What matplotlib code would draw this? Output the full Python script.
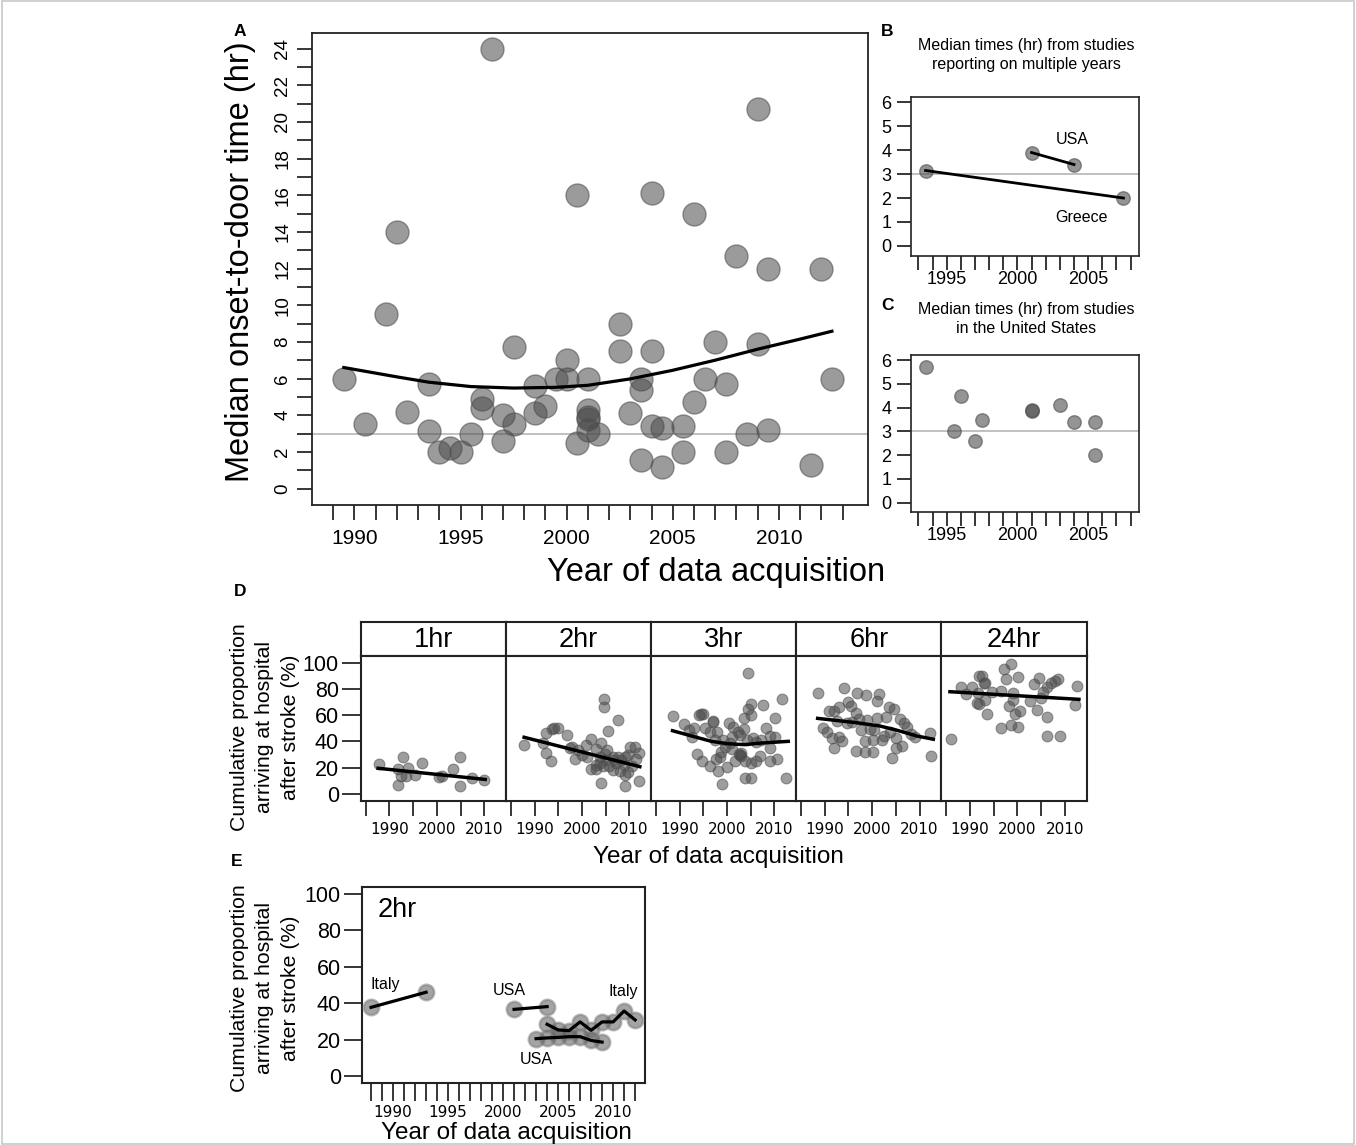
import numpy as np
import matplotlib
matplotlib.use("Agg")
import matplotlib.pyplot as plt
from matplotlib.patches import Rectangle

plt.rcParams['font.family'] = ['Liberation Sans', 'DejaVu Sans']

# ---- panel A: median onset-to-door time per study
a_year = [1989.5, 1990.5, 1991.5, 1992.0, 1992.5, 1993.5, 1993.5, 1994.0, 1994.5, 1995.0,
          1995.5, 1996.0, 1996.0, 1996.5, 1997.0, 1997.0, 1997.5, 1997.5, 1998.5, 1998.5,
          1999.0, 1999.5, 2000.0, 2000.0, 2000.5, 2000.5, 2001.0, 2001.0, 2001.0, 2001.0,
          2001.0, 2001.5, 2002.5, 2002.5, 2003.0, 2003.5, 2003.5, 2003.5, 2004.0, 2004.0,
          2004.0, 2004.5, 2004.5, 2005.5, 2005.5, 2006.0, 2006.0, 2006.5, 2007.0, 2007.5,
          2007.5, 2008.0, 2008.5, 2009.0, 2009.0, 2009.5, 2009.5, 2011.5, 2012.0, 2012.5]
a_hours = [6.0, 3.5, 9.5, 14.0, 4.2, 5.7, 3.15, 2.0, 2.2, 2.0,
           3.0, 4.9, 4.4, 24.0, 4.0, 2.6, 7.7, 3.5, 5.6, 4.1,
           4.5, 6.0, 7.0, 6.0, 16.0, 2.5, 6.0, 4.3, 3.9, 3.8,
           3.2, 3.0, 9.0, 7.5, 4.1, 6.0, 5.4, 1.55, 16.1, 7.5,
           3.4, 3.3, 1.2, 3.4, 2.0, 15.0, 4.7, 6.0, 8.0, 5.7,
           2.0, 12.7, 3.0, 20.7, 7.9, 12.0, 3.2, 1.3, 12.0, 6.0]
# fitted trend
a_fit_year = [1989.5, 1992.0, 1993.5, 1995.5, 1997.5, 1999.5, 2001.0, 2003.0, 2005.0,
              2007.0, 2009.0, 2011.0, 2012.5]
a_fit_hours = [6.6, 6.09, 5.8, 5.56, 5.48, 5.52, 5.63, 5.98, 6.45, 7.0, 7.6, 8.15, 8.58]

# ---- panel B: studies reporting on multiple years
b_year = [1993.5, 2007.5, 2001.0, 2004.0]
b_hours = [3.15, 2.0, 3.9, 3.4]
b_country = ['Greece', 'Greece', 'USA', 'USA']

# ---- panel C: studies in the United States
c_year = [1993.5, 1996.0, 1995.5, 1997.0, 1997.5, 2001.0, 2001.0, 2003.0, 2004.0, 2005.5, 2005.5]
c_hours = [5.7, 4.5, 3.0, 2.6, 3.5, 3.9, 3.85, 4.12, 3.4, 3.4, 2.0]

# ---- panel D: cumulative proportion arriving by time after stroke
d_labels = ['1hr', '2hr', '3hr', '6hr', '24hr']
d1_year = [1987.8, 1992.9, 1991.9, 1993.9, 1992.5, 1993.4, 1991.9, 1995.4, 1996.9, 2000.4,
           2001.0, 2003.4, 2004.9, 2004.9, 2007.4, 2010.0]
d1_pct = [22.6, 28.4, 19.0, 20.0, 13.9, 14.0, 6.9, 14.7, 23.8, 13.2,
          13.7, 19.0, 28.2, 5.9, 12.4, 10.9]
d2_year = [1987.8, 1992.5, 1993.6, 1994.1, 1995.0, 1996.9, 1991.8, 1992.5, 1993.4, 1997.4,
           1998.5, 1999.2, 2000.9, 2002.0, 2003.0, 2001.1, 2004.1, 2004.6, 2004.6, 2005.5,
           2007.5, 2002.0, 2003.0, 2003.7, 2004.4, 2005.1, 2005.8, 2006.5, 2007.2, 2007.6,
           2008.3, 2009.0, 2009.7, 2010.1, 2011.1, 2012.0, 2008.0, 2009.0, 2009.7, 2004.0,
           2009.0, 2012.0, 2003.7, 2005.3, 2006.5, 2002.9, 2004.8, 2006.8, 2008.8, 2010.6,
           2011.4, 1998.0, 2000.0]
d2_pct = [37.3, 46.2, 49.3, 50.5, 50.0, 44.9, 38.6, 31.5, 25.1, 34.8,
          26.4, 33.5, 37.3, 41.7, 34.0, 28.4, 38.6, 72.1, 66.0, 48.2,
          56.4, 18.8, 22.1, 23.8, 21.3, 25.9, 21.5, 28.4, 23.4, 28.4,
          25.9, 27.9, 29.7, 35.6, 35.6, 31.0, 17.7, 14.5, 17.0, 8.6,
          6.1, 9.9, 28.4, 33.5, 18.3, 18.8, 30.5, 26.0, 22.0, 21.5,
          26.5, 36.0, 30.0]
d3_year = [1988.5, 1991.0, 1992.0, 1993.1, 1992.5, 1994.1, 1994.6, 1995.0, 1995.3, 1997.1,
           1997.1, 1996.4, 1997.8, 1997.4, 1999.2, 2000.4, 2001.3, 2001.1, 2002.7, 2003.5,
           2003.6, 2004.4, 2005.0, 2005.0, 2004.4, 2007.5, 2011.5, 2010.1, 2008.3, 2009.0,
           2010.1, 2005.5, 2006.2, 2004.2, 1993.6, 1994.8, 1996.4, 1998.0, 1999.0, 1999.9,
           1998.5, 1997.6, 2001.6, 2002.5, 2003.0, 2003.7, 2005.1, 2006.2, 2006.9, 2003.7,
           2005.0, 2009.0, 2010.6, 2012.5, 2001.1, 1999.5, 2009.0, 1998.8, 2000.6, 2007.2,
           2002.3, 2002.7, 2002.9]
d3_pct = [59.4, 53.3, 48.7, 50.0, 43.2, 60.2, 60.9, 60.9, 50.5, 55.8,
          55.0, 47.5, 47.5, 41.1, 41.1, 54.3, 51.3, 43.2, 44.9, 49.3,
          57.6, 64.5, 68.5, 60.2, 92.4, 67.8, 72.6, 57.6, 50.0, 44.2,
          43.2, 42.4, 39.8, 41.1, 30.5, 25.4, 21.3, 17.7, 7.6, 20.8,
          28.0, 26.4, 25.4, 30.5, 28.9, 25.4, 23.4, 25.4, 28.9, 12.0,
          12.0, 25.4, 26.4, 12.0, 34.0, 36.0, 35.4, 32.2, 38.6, 41.1,
          47.5, 29.5, 31.0]
d6_year = [1988.5, 1994.1, 1996.9, 1998.7, 2001.5, 2001.1, 1995.0, 1995.5, 1993.1, 1991.0,
           1992.0, 1996.6, 1997.3, 1994.6, 1992.5, 1989.6, 1990.5, 1991.5, 1993.1, 1993.6,
           1992.0, 1999.0, 2001.1, 2003.0, 2003.5, 2004.6, 2005.8, 2006.7, 2007.4, 2008.1,
           2009.0, 2012.2, 2012.5, 1997.6, 1999.5, 2000.4, 2002.0, 2002.6, 1998.5, 2000.1,
           1996.6, 1998.5, 2000.1, 2004.1, 2005.0, 2006.2, 2005.1, 2003.7, 1995.7]
d6_pct = [77.2, 80.5, 76.7, 75.2, 76.2, 71.1, 70.3, 67.0, 66.5, 63.2,
          63.2, 61.5, 56.9, 54.3, 55.8, 50.0, 47.5, 42.4, 43.2, 40.6,
          35.3, 56.4, 57.6, 58.9, 66.5, 64.5, 56.9, 53.8, 51.3, 45.7,
          43.2, 46.7, 28.9, 48.7, 49.3, 48.7, 41.1, 44.2, 40.6, 41.1,
          33.0, 32.2, 32.2, 27.2, 34.8, 36.6, 42.4, 47.5, 55.0]
d24_year = [1986.1, 1988.1, 1989.1, 1990.5, 1991.7, 1992.0, 1992.5, 1992.9, 1993.2, 1991.5,
            1992.0, 1993.2, 1993.6, 1994.6, 1996.6, 1997.1, 1998.7, 1997.6, 2000.1, 1999.2,
            1999.0, 1998.3, 1999.5, 2000.6, 1996.6, 1998.7, 2000.1, 2002.7, 2003.6, 2004.6,
            2004.2, 2005.1, 2005.5, 2006.2, 2007.2, 2007.9, 2008.6, 2006.2, 2006.2, 2009.0,
            2012.2, 2012.6]
d24_pct = [41.9, 81.7, 76.2, 81.3, 77.2, 89.9, 89.9, 84.3, 84.3, 69.5,
           68.5, 71.6, 60.9, 77.9, 78.7, 95.0, 99.0, 87.4, 89.3, 76.7,
           71.6, 67.0, 60.9, 63.4, 50.0, 52.5, 50.8, 71.1, 83.8, 88.1,
           64.0, 72.9, 77.9, 81.3, 84.3, 86.3, 87.4, 58.9, 44.2, 44.2,
           67.8, 82.3]
# trend lines
d_fit_year = [[1987.6, 2010.2],
              [1987.8, 2012.2],
              [1988.5, 1992.5, 1996.7, 2000.2, 2003.7, 2007.2, 2012.9],
              [1988.5, 1996.7, 2001.6, 2005.1, 2009.4, 2012.9],
              [1985.8, 2013.0]]
d_fit_pct = [[19.6, 11.1],
             [43.2, 20.8],
             [48.2, 44.2, 40.1, 38.3, 37.6, 38.8, 40.1],
             [57.6, 54.3, 51.8, 48.7, 44.2, 41.7],
             [77.9, 72.1]]

# ---- panel E: 2hr proportions from studies reporting several years
e_italy1_year = [1988, 1993]
e_italy1_pct = [37.7, 46.0]
e_usa1_year = [2001, 2004]
e_usa1_pct = [36.6, 38.1]
e_usa2_year = [2003, 2004, 2005, 2006, 2007, 2008, 2009]
e_usa2_pct = [20.5, 20.9, 21.2, 21.6, 21.6, 19.5, 18.6]
e_italy2_year = [2004, 2005, 2006, 2007, 2008, 2009, 2010, 2011, 2012]
e_italy2_pct = [28.4, 25.3, 24.9, 29.7, 25.1, 29.7, 29.7, 35.7, 30.8]

W, H = 1356, 1145


def box(l, t, r, b):
    return [l / W, 1 - b / H, (r - l) / W, (b - t) / H]


PT = 0.72  # points per pixel at 100 dpi
GRAY = '0.3'
fig = plt.figure(figsize=(W / 100, H / 100), dpi=100)
fig.patches.append(Rectangle((0.0015, 0.001), 0.997, 0.998, transform=fig.transFigure,
                             fill=False, ec='#c8c8c8', lw=1.2))


def style(ax, lw=1.3):
    for s in ax.spines.values():
        s.set_linewidth(lw)
        s.set_color('#222222')


# ================= A
ax = fig.add_axes(box(312, 33, 868, 505))
style(ax)
ax.axhline(3, color='#b5b5b5', lw=1.2, zorder=1)
ax.scatter(a_year, a_hours, s=(23 * PT) ** 2, c=GRAY, alpha=0.56, edgecolors=GRAY,
           linewidths=1, zorder=3)
ax.plot(a_fit_year, a_fit_hours, color='black', lw=2.3, zorder=4)
ax.set_xlim(1988.0, 2014.2)
ax.set_ylim(-0.9, 24.85)
ax.set_xticks(range(1989, 2014))
ax.set_xticklabels([str(y) if y % 5 == 0 else '' for y in range(1989, 2014)])
ax.set_yticks(range(0, 25))
ax.set_yticklabels([str(v) if v % 2 == 0 else '' for v in range(0, 25)], rotation=90,
                   va='center')
ax.tick_params(axis='x', direction='out', length=11, width=1.1, labelsize=15, pad=6)
ax.tick_params(axis='y', direction='out', length=11, width=1.1, labelsize=13.5, pad=4)
fig.text(240 / W, 1 - 262 / H, 'Median onset-to-door time (hr)', rotation=90,
         ha='center', va='center', fontsize=23.5)
fig.text(716 / W, 1 - 572 / H, 'Year of data acquisition', ha='center', va='center',
         fontsize=23.5)

# ================= B and C
for pos, title, title_y, yrs, hrs in [((911, 97, 1139, 255.5),
                                       'Median times (hr) from studies\nreporting on multiple years',
                                       55, b_year, b_hours),
                                      ((911, 355, 1139, 512),
                                       'Median times (hr) from studies\nin the United States',
                                       319, c_year, c_hours)]:
    ax = fig.add_axes(box(*pos))
    style(ax, 1.2)
    ax.axhline(3, color='#b5b5b5', lw=1.2, zorder=1)
    ax.scatter(yrs, hrs, s=(13.5 * PT) ** 2, c=GRAY, alpha=0.6, edgecolors=GRAY,
               linewidths=1, zorder=3)
    ax.set_xlim(1992.47, 2008.6)
    ax.set_ylim(-0.4, 6.22)
    ax.set_xticks(range(1993, 2009))
    ax.set_xticklabels([str(y) if y % 5 == 0 else '' for y in range(1993, 2009)])
    ax.set_yticks(range(0, 7))
    ax.tick_params(axis='x', direction='out', length=10, width=1.1, labelsize=13, pad=1)
    ax.tick_params(axis='y', direction='out', length=10, width=1.1, labelsize=13, pad=4)
    fig.text(1026 / W, 1 - title_y / H, title, ha='center', va='center',
             fontsize=11.5, linespacing=1.35)
    if title.endswith('years'):
        for ctry in ['Greece', 'USA']:
            xs = [x for x, c in zip(b_year, b_country) if c == ctry]
            ys = [v for v, c in zip(b_hours, b_country) if c == ctry]
            ax.plot(xs, ys, color='black', lw=2, zorder=4)
        ax.text(2003.9, 4.44, 'USA', ha='center', va='center', fontsize=11.5)
        ax.text(2004.5, 1.17, 'Greece', ha='center', va='center', fontsize=11.5)

# ================= D
d_year = [d1_year, d2_year, d3_year, d6_year, d24_year]
d_pct = [d1_pct, d2_pct, d3_pct, d6_pct, d24_pct]
pw = (1086.5 - 361) / 5
for i in range(5):
    left = 361 + i * pw
    sax = fig.add_axes(box(left, 621.7, left + pw, 656))
    style(sax, 1.5)
    sax.set_xticks([])
    sax.set_yticks([])
    sax.text(0.5, 0.48, d_labels[i], transform=sax.transAxes, ha='center', va='center',
             fontsize=19.5)
    ax = fig.add_axes(box(left, 656, left + pw, 800.7))
    style(ax, 1.5)
    ax.scatter(d_year[i], d_pct[i], s=(10.8 * PT) ** 2, c=GRAY, alpha=0.55,
               edgecolors=GRAY, linewidths=0.8, zorder=3)
    ax.plot(d_fit_year[i], d_fit_pct[i], color='black', lw=2.5, zorder=4)
    ax.set_xlim(1984.0, 2014.6)
    ax.set_ylim(-5.1, 105.1)
    ax.set_xticks(range(1985, 2011, 5))
    ax.set_xticklabels([str(y) if y % 10 == 0 else '' for y in range(1985, 2011, 5)],
                       family='DejaVu Sans')
    ax.tick_params(axis='x', direction='out', length=11, width=1.1, labelsize=11, pad=4)
    if i == 0:
        ax.set_yticks(range(0, 101, 20))
        ax.tick_params(axis='y', direction='out', length=14, width=1.1, labelsize=15.5,
                       pad=2)
    else:
        ax.set_yticks([])
ylab = 'Cumulative proportion\narriving at hospital\nafter stroke (%)'
fig.text(265 / W, 1 - 727 / H, ylab, rotation=90, ha='center', va='center',
         fontsize=15.3, linespacing=1.45)
fig.text(718 / W, 1 - 857 / H, 'Year of data acquisition', ha='center', va='center',
         fontsize=17.5)

# ================= E
ax = fig.add_axes(box(361.7, 886.7, 645, 1082.7))
style(ax, 1.5)
for xs, ys in [(e_italy1_year, e_italy1_pct), (e_usa1_year, e_usa1_pct),
               (e_usa2_year, e_usa2_pct), (e_italy2_year, e_italy2_pct)]:
    ax.scatter(xs, ys, s=(15.5 * PT) ** 2, c='0.35', alpha=0.55, edgecolors='0.5',
               linewidths=1.8, zorder=3)
    ax.plot(xs, ys, color='black', lw=2.3, zorder=4)
ax.text(1989.3, 50.0, 'Italy', ha='center', va='center', fontsize=11.5)
ax.text(2000.6, 46.9, 'USA', ha='center', va='center', fontsize=11.5)
ax.text(2010.9, 46.3, 'Italy', ha='center', va='center', fontsize=11.5)
ax.text(2003.0, 9.2, 'USA', ha='center', va='center', fontsize=11.5)
ax.text(1988.6, 91, '2hr', ha='left', va='center', fontsize=19.5)
ax.set_xlim(1987.15, 2012.9)
ax.set_ylim(-3.7, 104)
ax.set_xticks(range(1988, 2013))
ax.set_xticklabels([str(y) if y % 5 == 0 else '' for y in range(1988, 2013)],
                   family='DejaVu Sans')
ax.set_yticks(range(0, 101, 20))
ax.tick_params(axis='x', direction='out', length=13, width=1.1, labelsize=11, pad=3)
ax.tick_params(axis='y', direction='out', length=13, width=1.1, labelsize=15.5, pad=2)
fig.text(265 / W, 1 - 988 / H, ylab, rotation=90, ha='center', va='center',
         fontsize=15.3, linespacing=1.45)
fig.text(506 / W, 1 - 1133 / H, 'Year of data acquisition', ha='center', va='center',
         fontsize=17.5)

# panel letters
for letter, x, y in [('A', 240, 32), ('B', 887, 32), ('C', 887, 305), ('D', 240, 591),
                     ('E', 237, 862)]:
    fig.text(x / W, 1 - y / H, letter, ha='center', va='center', fontsize=12.5,
             fontweight='bold')

fig.savefig('out.png', dpi=100)
